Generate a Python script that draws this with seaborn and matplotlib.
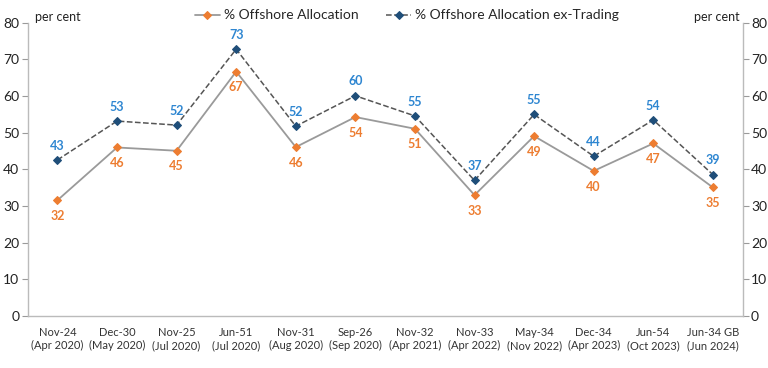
import numpy as np
import pandas as pd
import matplotlib
matplotlib.use("Agg")
import matplotlib.pyplot as plt
import seaborn as sns

# data
periods = ["Nov-24\n(Apr 2020)", "Dec-30\n(May 2020)", "Nov-25\n(Jul 2020)", "Jun-51\n(Jul 2020)",
           "Nov-31\n(Aug 2020)", "Sep-26\n(Sep 2020)", "Nov-32\n(Apr 2021)", "Nov-33\n(Apr 2022)",
           "May-34\n(Nov 2022)", "Dec-34\n(Apr 2023)", "Jun-54\n(Oct 2023)", "Jun-34 GB\n(Jun 2024)"]
offshore = [31.6, 46.0, 45.1, 66.7, 46.1, 54.3, 51.1, 33.0, 49.1, 39.6, 47.1, 35.1]
offshore_ex = [42.6, 53.2, 52.1, 72.8, 51.8, 60.1, 54.6, 37.0, 55.0, 43.6, 53.5, 38.6]

df = pd.DataFrame({"idx": np.arange(len(periods)), "off": offshore, "ex": offshore_ex})

sns.set_style("white")
plt.rcParams["font.family"] = ["Lato", "DejaVu Sans"]

orange = "#ED7D31"
navy = "#1F4E79"
lblue = "#2E86D1"
grey = "#9A9A9A"

fig = plt.figure(figsize=(7.68, 3.68), dpi=100)
ax = fig.add_axes([0.036, 0.141, 0.931, 0.797])

sns.lineplot(data=df, x="idx", y="off", ax=ax, color=grey, linewidth=1.3, marker="D",
             markersize=4.5, markerfacecolor=orange, markeredgecolor=orange,
             label="% Offshore Allocation", legend=False)
sns.lineplot(data=df, x="idx", y="ex", ax=ax, color="#555555", linewidth=1.1, linestyle="--",
             marker="D", markersize=4.5, markerfacecolor=navy, markeredgecolor=navy,
             label="% Offshore Allocation ex-Trading", legend=False)

for i, (a, b) in enumerate(zip(offshore, offshore_ex)):
    ax.annotate(f"{a:.0f}", (i, a), xytext=(0, -7), textcoords="offset points",
                ha="center", va="top", color=orange, fontsize=9, fontweight="bold")
    ax.annotate(f"{b:.0f}", (i, b), xytext=(0, 6), textcoords="offset points",
                ha="center", va="bottom", color=lblue, fontsize=9, fontweight="bold")

ax.set_xlim(-0.5, len(periods) - 0.5)
ax.set_ylim(0, 80)
ax.set_yticks(range(0, 81, 10))
ax.set_xticks(range(len(periods)))
ax.set_xticklabels(periods, fontsize=8, color="#333333")
ax.set_xlabel("")
ax.set_ylabel("")
ax.tick_params(axis="y", left=True, right=True, labelleft=True, labelright=True,
               length=4, color=grey, labelsize=10, labelcolor="#222222", pad=2)
ax.tick_params(axis="x", length=0, pad=8)
for s in ["left", "right", "bottom"]:
    ax.spines[s].set_color("#BBBBBB")
    ax.spines[s].set_linewidth(1.0)
ax.spines["top"].set_visible(False)

fig.text(0.045, 0.955, "per cent", fontsize=9, color="#222222", va="center")
fig.text(0.963, 0.955, "per cent", fontsize=9, color="#222222", va="center", ha="right")

h, l = ax.get_legend_handles_labels()
fig.legend(h, l, loc="center", bbox_to_anchor=(0.53, 0.958), ncol=2, frameon=False,
           fontsize=10, handlelength=1.8, columnspacing=2.0, handletextpad=0.3)

fig.savefig("out.png", dpi=100)
